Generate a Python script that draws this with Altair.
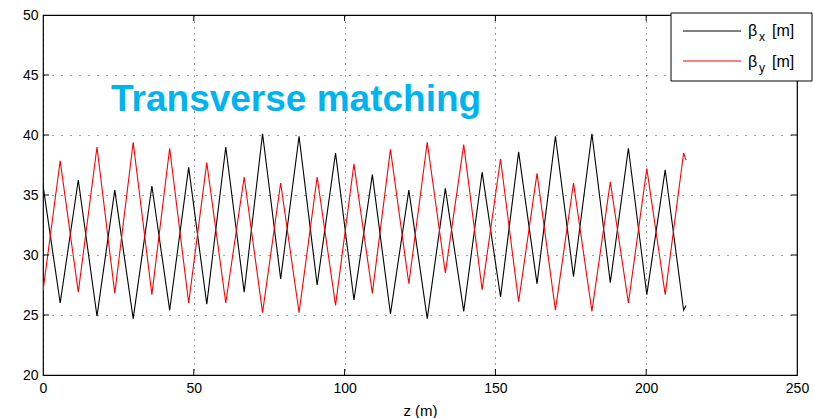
import altair as alt
import pandas as pd

# Black curve (beta_x): start, alternating troughs/peaks, end
z_x = [0.0, 5.7, 11.7, 17.9, 23.8, 29.9, 36.1, 42.0, 48.3, 54.3, 60.6, 66.7, 72.8,
       78.8, 84.9, 90.9, 97.0, 103.1, 109.2, 115.2, 121.3, 127.4, 133.4, 139.5,
       145.6, 151.7, 157.7, 163.8, 169.9, 175.9, 182.0, 188.1, 194.1, 200.2,
       206.3, 212.4, 213.2]
beta_x = [35.8, 26.0, 36.25, 24.9, 35.4, 24.7, 35.75, 25.4, 37.3, 25.9, 39.0, 26.9, 40.1,
          28.0, 39.9, 27.5, 38.5, 26.25, 36.7, 25.1, 35.4, 24.7, 35.55, 25.3,
          36.9, 26.5, 38.6, 27.6, 39.9, 28.2, 40.1, 27.7, 38.9, 26.7,
          37.1, 25.4, 25.8]

# Red curve (beta_y)
z_y = [0.0, 5.7, 11.7, 17.9, 23.8, 29.9, 36.1, 42.0, 48.3, 54.3, 60.6, 66.7, 72.8,
       78.8, 84.9, 90.9, 97.0, 103.1, 109.2, 115.2, 121.3, 127.4, 133.4, 139.5,
       145.6, 151.7, 157.7, 163.8, 169.9, 175.9, 182.0, 188.1, 194.1, 200.2,
       206.3, 212.4, 213.2]
beta_y = [27.0, 37.85, 26.9, 39.0, 26.8, 39.4, 26.7, 38.9, 26.0, 37.7, 26.0, 36.5, 25.2,
          36.0, 25.2, 36.5, 25.8, 37.6, 26.8, 38.8, 27.6, 39.4, 28.5, 39.2,
          27.1, 38.0, 26.1, 36.8, 25.4, 36.0, 25.3, 36.1, 26.0, 37.2,
          26.7, 38.5, 37.9]

x_ticks = [0, 50, 100, 150, 200, 250]
y_ticks = [20, 25, 30, 35, 40, 45, 50]
series_names = ["bx", "by"]
series_colors = ["black", "red"]
title_text = "Transverse matching"
x_title = "z (m)"

W, H = 754, 360

df = pd.concat([
    pd.DataFrame({"z": z_x, "beta": beta_x, "series": "bx", "ord": range(len(z_x))}),
    pd.DataFrame({"z": z_y, "beta": beta_y, "series": "by", "ord": range(len(z_y))}),
])

xscale = alt.Scale(domain=[0, 250], nice=False, zero=False)
yscale = alt.Scale(domain=[20, 50], nice=False, zero=False)

x_axis = alt.Axis(values=x_ticks, title=x_title, grid=True, ticks=False,
                  domain=False, labelPadding=6, titlePadding=8,
                  labelFontSize=14, titleFontSize=15, titleFontWeight="normal",
                  labelFont="Liberation Sans", titleFont="Liberation Sans",
                  labelColor="black", titleColor="black",
                  gridDash=[1, 5], gridColor="black", gridOpacity=0.75,
                  labelFlush=False)
y_axis = alt.Axis(values=y_ticks, title=None, grid=True, ticks=False,
                  domain=False, labelPadding=5, labelFontSize=14,
                  labelFont="Liberation Sans", labelColor="black",
                  gridDash=[1, 8], gridColor="black", gridOpacity=0.75,
                  labelFlush=False)

lines = alt.Chart(df).mark_line(strokeWidth=1.1, clip=True).encode(
    x=alt.X("z:Q", scale=xscale, axis=x_axis),
    y=alt.Y("beta:Q", scale=yscale, axis=y_axis),
    color=alt.Color("series:N", scale=alt.Scale(domain=series_names, range=series_colors),
                    legend=None),
    order="ord:Q",
)

xt = pd.DataFrame({"z": x_ticks[1:-1]})
yt = pd.DataFrame({"beta": y_ticks[1:-1]})
tl = 6
xt_bot = alt.Chart(xt).mark_rule(color="black", strokeWidth=1).encode(
    x=alt.X("z:Q", scale=xscale, axis=x_axis), y=alt.value(H), y2=alt.value(H - tl))
xt_top = alt.Chart(xt).mark_rule(color="black", strokeWidth=1).encode(
    x=alt.X("z:Q", scale=xscale, axis=x_axis), y=alt.value(0), y2=alt.value(tl))
yt_left = alt.Chart(yt).mark_rule(color="black", strokeWidth=1).encode(
    y=alt.Y("beta:Q", scale=yscale, axis=y_axis), x=alt.value(0), x2=alt.value(tl))
yt_right = alt.Chart(yt).mark_rule(color="black", strokeWidth=1).encode(
    y=alt.Y("beta:Q", scale=yscale, axis=y_axis), x=alt.value(W), x2=alt.value(W - tl))

one = pd.DataFrame({"a": [0]})
title = alt.Chart(one).mark_text(
    text=title_text, font="Liberation Sans", fontSize=37, fontWeight="bold",
    color="#00b4f0", align="left", baseline="alphabetic"
).encode(x=alt.value(68), y=alt.value(96))

# Legend box
leg_box = alt.Chart(one).mark_rect(fill="white", stroke="black", strokeWidth=1).encode(
    x=alt.value(628), x2=alt.value(769), y=alt.value(-2), y2=alt.value(66))
leg_l1 = alt.Chart(one).mark_rule(color="black", strokeWidth=1).encode(
    x=alt.value(640), x2=alt.value(698), y=alt.value(16))
leg_l2 = alt.Chart(one).mark_rule(color="red", strokeWidth=1).encode(
    x=alt.value(640), x2=alt.value(698), y=alt.value(46))

def txt(s, x, y, size=16):
    return alt.Chart(one).mark_text(
        text=s, font="Liberation Sans", fontSize=size, color="black",
        align="left", baseline="middle"
    ).encode(x=alt.value(x), y=alt.value(y))

legend_texts = [
    txt("β", 705, 16), txt("x", 716, 22, 12), txt("[m]", 729, 16),
    txt("β", 705, 47), txt("y", 716, 53, 12), txt("[m]", 729, 47),
]

chart = alt.layer(
    lines, xt_bot, xt_top, yt_left, yt_right, title, leg_box, leg_l1, leg_l2, *legend_texts
).properties(
    width=W, height=H,
    background="white",
    autosize=alt.AutoSizeParams(type="none"),
    padding={"left": 43, "top": 15, "right": 16, "bottom": 43},
).configure_view(stroke="black", strokeWidth=1.2)

chart.save("out.html", embed_options={"renderer": "svg", "actions": False})
